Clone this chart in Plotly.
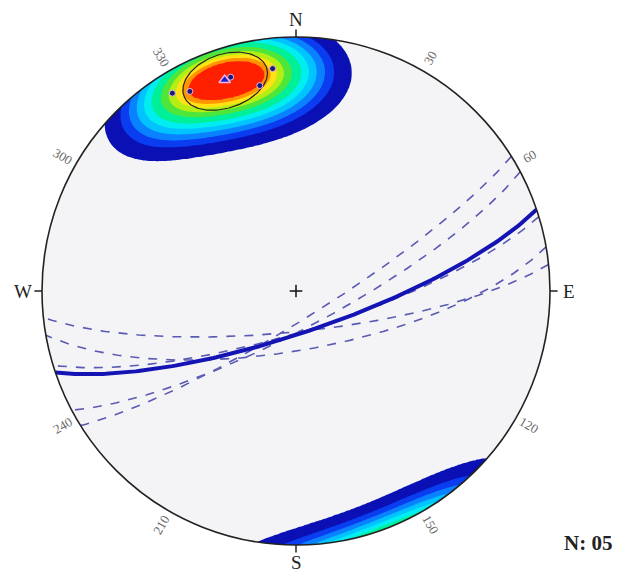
import numpy as np
import plotly.graph_objects as go

# Poles to the five measured planes (trend / plunge, degrees)
pole_trend = [328, 332, 343, 350, 354]
pole_plunge = [9, 12, 13, 19, 13]

cardinal_labels = ["N", "E", "S", "W"]
cardinal_az = [0, 90, 180, 270]
degree_ticks = [30, 60, 120, 150, 210, 240, 300, 330]
count_label = "N: 05"

# Contouring: kernel concentration and contour levels (fraction of peak density)
KERNEL_K = 18.0
levels = [0.17, 0.28, 0.35, 0.42, 0.49, 0.56, 0.65, 0.72, 0.78, 0.83, 0.87]
band_colors = ["#0a10b4", "#0a3cf0", "#0a82ff", "#00c3ff", "#00eef0",
               "#00f09a", "#4ee63a", "#b4ee14", "#ffe114", "#ff9400", "#ff2000"]


def vec(trend, plunge):
    t = np.radians(trend)
    p = np.radians(plunge)
    return np.stack([np.cos(p) * np.cos(t), np.cos(p) * np.sin(t), np.sin(p)], axis=-1)


def project(v):
    """Lower-hemisphere equal-area (Schmidt) projection, unit primitive."""
    v = np.atleast_2d(v).copy()
    flip = v[:, 2] < 0
    v[flip] *= -1
    s = 1.0 / np.sqrt(1.0 + v[:, 2])
    return v[:, 1] * s, v[:, 0] * s


poles = vec(np.array(pole_trend, float), np.array(pole_plunge, float))
n = len(poles)

# Mean pole and Fisher 95% cone
vsum = poles.sum(axis=0)
R = np.linalg.norm(vsum)
mean = vsum / R
a95 = np.arccos(1 - (n - R) / R * ((1 / 0.05) ** (1 / (n - 1)) - 1))

# Density on a grid (axial exponential kernel); points beyond the
# primitive are evaluated on it, and then hidden by the outer mask
G = 261
gx = np.linspace(-1.02, 1.02, G)
X, Y = np.meshgrid(gx, gx)
rr = np.sqrt(X ** 2 + Y ** 2)
scale = np.where(rr > 1, 1 / np.maximum(rr, 1e-9), 1.0)
Xc, Yc = X * scale, Y * scale
d = 1 - (Xc ** 2 + Yc ** 2)
f = np.sqrt(1 + d)
V = np.stack([Yc * f, Xc * f, d], axis=-1)
dens = np.zeros_like(X)
for p in poles:
    dens += np.exp(KERNEL_K * (np.abs(V @ p) - 1))
rel = dens / dens.max()
nl = len(levels)
zc = np.where(rel >= levels[0],
              np.interp(rel, levels + [1.0], np.arange(nl + 1)),
              rel / levels[0] - 1)

cscale = [[0, "rgba(255,255,255,0)"]]
for i, c in enumerate(band_colors):
    cscale.append([(i + 1) / nl, c])

fig = go.Figure()
fig.add_trace(go.Contour(
    x=gx, y=gx, z=zc, colorscale=cscale, showscale=False, hoverinfo="skip",
    contours=dict(start=0, end=nl - 1, size=1, coloring="fill", showlines=False),
    line=dict(width=0, smoothing=1),
))


def great_circle(pv):
    tr = np.degrees(np.arctan2(pv[1], pv[0]))
    pl = np.degrees(np.arcsin(pv[2]))
    s = vec(tr + 90, 0.0)
    u = vec(tr + 180, 90 - pl)
    t = np.linspace(0, np.pi, 181)[:, None]
    pts = np.cos(t) * s + np.sin(t) * u
    return project(pts)


# Individual planes (dashed)
for p in poles:
    x, y = great_circle(p)
    fig.add_trace(go.Scatter(x=x, y=y, mode="lines", hoverinfo="skip",
                             line=dict(color="#5a5ab4", width=1.6, dash="dash")))

# Mean plane
x, y = great_circle(mean)
fig.add_trace(go.Scatter(x=x, y=y, mode="lines", hoverinfo="skip",
                         line=dict(color="#1414b4", width=4)))

# Confidence cone about the mean pole
ref = np.array([0, 0, 1.0])
a = np.cross(mean, ref); a /= np.linalg.norm(a)
b = np.cross(mean, a)
t = np.linspace(0, 2 * np.pi, 200)[:, None]
cone = np.cos(a95) * mean + np.sin(a95) * (np.cos(t) * a + np.sin(t) * b)
cx, cy = project(cone)
fig.add_trace(go.Scatter(x=cx, y=cy, mode="lines", hoverinfo="skip",
                         line=dict(color="#222222", width=1.2)))

# Poles and mean pole
px, py = project(poles)
fig.add_trace(go.Scatter(x=px, y=py, mode="markers", hoverinfo="skip",
                         marker=dict(size=6, color="#1a1a70",
                                     line=dict(color="#f0b4e6", width=1))))
mx, my = project(mean)
fig.add_trace(go.Scatter(x=mx, y=my, mode="markers", hoverinfo="skip",
                         marker=dict(symbol="triangle-up", size=10, color="#2020c8",
                                     line=dict(color="#f0b4e6", width=1.5))))

shapes = []
# net background
shapes.append(dict(type="circle", xref="x", yref="y", x0=-1, y0=-1, x1=1, y1=1,
                   fillcolor="#f4f4f6", line=dict(width=0), layer="below"))
# white mask outside the primitive
ang = np.linspace(0, 2 * np.pi, 241)
ring = " ".join("L%.5f,%.5f" % (np.sin(q), np.cos(q)) for q in ang[1:])
mask = ("M-3,-3 L3,-3 L3,3 L-3,3 Z M0,1 " + ring + " Z")
shapes.append(dict(type="path", xref="x", yref="y", path=mask,
                   fillcolor="white", line=dict(width=0), layer="above"))
# primitive circle
shapes.append(dict(type="circle", xref="x", yref="y", x0=-1, y0=-1, x1=1, y1=1,
                   line=dict(color="#222222", width=1.6), layer="above"))
# cardinal ticks
for az in cardinal_az:
    s_, c_ = np.sin(np.radians(az)), np.cos(np.radians(az))
    shapes.append(dict(type="line", xref="x", yref="y", x0=s_, y0=c_,
                       x1=1.03 * s_, y1=1.03 * c_, line=dict(color="#222222", width=1.5),
                       layer="above"))
# centre cross
shapes.append(dict(type="line", xref="x", yref="y", x0=-0.025, y0=0, x1=0.025, y1=0,
                   line=dict(color="#111111", width=1.5)))
shapes.append(dict(type="line", xref="x", yref="y", x0=0, y0=-0.025, x1=0, y1=0.025,
                   line=dict(color="#111111", width=1.5)))

annotations = []
for lab, az in zip(cardinal_labels, cardinal_az):
    s_, c_ = np.sin(np.radians(az)), np.cos(np.radians(az))
    annotations.append(dict(x=1.075 * s_, y=1.07 * c_, xref="x", yref="y", text=lab,
                            showarrow=False, font=dict(family="Liberation Serif", size=19,
                                                       color="#222222")))
for az in degree_ticks:
    s_, c_ = np.sin(np.radians(az)), np.cos(np.radians(az))
    rot = az - 90 if az < 180 else az - 270
    annotations.append(dict(x=1.06 * s_, y=1.06 * c_, xref="x", yref="y", text=str(az),
                            textangle=rot, showarrow=False,
                            font=dict(family="Liberation Serif", size=13, color="#666666")))
annotations.append(dict(x=(588 - 296) / 254, y=-(543 - 291) / 254, xref="x", yref="y",
                        text="<b>%s</b>" % count_label, showarrow=False,
                        font=dict(family="Liberation Serif", size=21, color="#222222")))

fig.update_layout(
    width=621, height=579, margin=dict(l=0, r=0, t=0, b=0),
    paper_bgcolor="white", plot_bgcolor="white", showlegend=False,
    xaxis=dict(range=[-296 / 254, 325 / 254], visible=False, fixedrange=True),
    yaxis=dict(range=[-288 / 254, 291 / 254], visible=False, fixedrange=True),
    shapes=shapes, annotations=annotations,
)
fig.write_html("out.html")
